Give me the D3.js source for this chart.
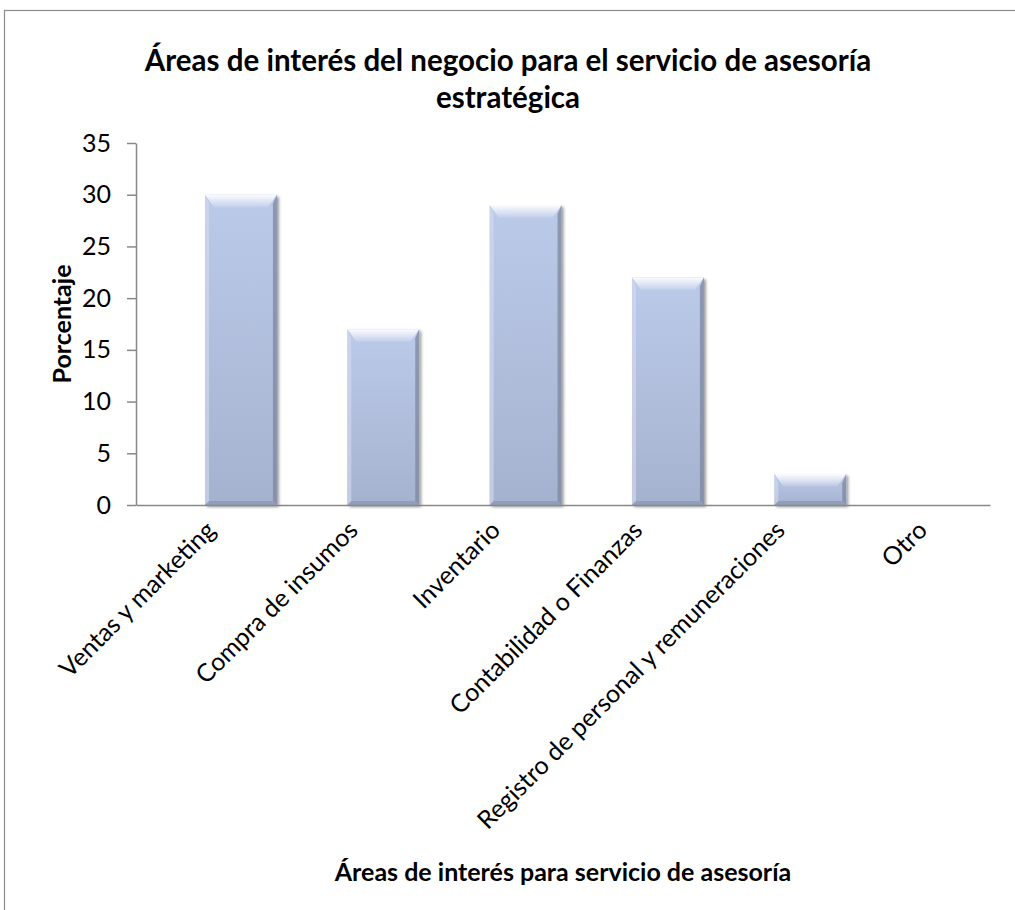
<!DOCTYPE html>
<html>
<head>
<meta charset="utf-8">
<script src="https://cdn.jsdelivr.net/npm/d3@7"></script>
<style>
  html, body { margin: 0; padding: 0; background: #fff; }
  svg { display: block; font-family: Lato, "Open Sans", sans-serif; }
</style>
</head>
<body>
<svg id="chart" width="1015" height="910"></svg>
<script>
// Áreas de interés — porcentaje de respuestas
const categories = [
  "Ventas y marketing",
  "Compra de insumos",
  "Inventario",
  "Contabilidad o Finanzas",
  "Registro de personal y remuneraciones",
  "Otro"
];
const percentages = [30, 17, 29, 22, 3, 0];
const yTicks = [0, 5, 10, 15, 20, 25, 30, 35];

const titleLines = ["Áreas de interés del negocio para el servicio de asesoría", "estratégica"];
const xTitle = "Áreas de interés para servicio de asesoría";
const yTitle = "Porcentaje";

const svg = d3.select("#chart");
const plot = { left: 136, right: 990, top: 143, bottom: 505 };

// outer chart frame (runs off the right and bottom edges)
svg.append("rect")
  .attr("x", 4.5).attr("y", 10.5)
  .attr("width", 1100).attr("height", 1000)
  .attr("fill", "#fff").attr("stroke", "#8c8c8c").attr("stroke-width", 1.2);

const x = d3.scaleBand().domain(categories).range([plot.left, plot.right]).padding(0);
const y = d3.scaleLinear().domain([0, 35]).range([plot.bottom, plot.top]);
// each bar sits in the right half of its category slot
const barOffset = 0.485, barWidth = 0.505;

// gradients and shadow for the bevelled bars
const defs = svg.append("defs");
const g1 = defs.append("linearGradient").attr("id", "barFill").attr("x1", 0).attr("y1", 0).attr("x2", 0).attr("y2", 1);
g1.append("stop").attr("offset", "0%").attr("stop-color", "#bccaea");
g1.append("stop").attr("offset", "100%").attr("stop-color", "#a5b2cf");
const topG = defs.append("linearGradient").attr("id", "topBevel").attr("x1", 0).attr("y1", 0).attr("x2", 0).attr("y2", 1);
topG.append("stop").attr("offset", "0%").attr("stop-color", "#ffffff").attr("stop-opacity", 0.95);
topG.append("stop").attr("offset", "100%").attr("stop-color", "#ffffff").attr("stop-opacity", 0.1);
const sh = defs.append("filter").attr("id", "shadow").attr("x", "-20%").attr("y", "-20%").attr("width", "140%").attr("height", "140%");
sh.append("feGaussianBlur").attr("in", "SourceAlpha").attr("stdDeviation", 1.4);
sh.append("feOffset").attr("dx", 1.5).attr("dy", 1.5).attr("result", "b");
sh.append("feComponentTransfer").append("feFuncA").attr("type", "linear").attr("slope", 0.4);
const m = sh.append("feMerge");
m.append("feMergeNode");
m.append("feMergeNode").attr("in", "SourceGraphic");

// y axis
const yAxis = svg.append("g").attr("transform", `translate(${plot.left},0)`)
  .call(d3.axisLeft(y).tickValues(yTicks).tickSize(9).tickSizeOuter(0).tickPadding(16));
yAxis.select(".domain").attr("stroke", "#888").attr("stroke-width", 1.5);
yAxis.selectAll(".tick line").attr("stroke", "#888").attr("stroke-width", 1.5);
yAxis.selectAll(".tick text").attr("font-size", 25).attr("fill", "#000").attr("font-family", "Lato, sans-serif");

// bars
const bars = svg.append("g").selectAll("g").data(categories.map((c, i) => ({ c, v: percentages[i] })))
  .join("g").filter(d => d.v > 0);
bars.each(function(d) {
  const g = d3.select(this);
  const x0 = x(d.c) + x.bandwidth() * barOffset, w = x.bandwidth() * barWidth;
  const y0 = y(d.v), y1 = y(0), h = y1 - y0;
  const b = Math.min(9, h / 2.5), s = Math.min(4, h / 4);
  g.append("rect").attr("x", x0).attr("y", y0).attr("width", w).attr("height", h)
    .attr("fill", "url(#barFill)").attr("filter", "url(#shadow)");
  // top bevel (soft highlight)
  g.append("path").attr("d", `M${x0},${y0}L${x0 + w},${y0}L${x0 + w - b},${y0 + b * 1.4}L${x0 + b},${y0 + b * 1.4}Z`)
    .attr("fill", "url(#topBevel)");
  // left bevel
  g.append("path").attr("d", `M${x0},${y0}L${x0 + s},${y0 + b}L${x0 + s},${y1 - s}L${x0},${y1}Z`)
    .attr("fill", "#d3dcef").attr("opacity", 0.6);
  // right bevel (dark)
  g.append("path").attr("d", `M${x0 + w},${y0}L${x0 + w - s},${y0 + b}L${x0 + w - s},${y1 - s}L${x0 + w},${y1}Z`)
    .attr("fill", "#7c869e").attr("opacity", 0.75);
  // bottom bevel
  g.append("path").attr("d", `M${x0},${y1}L${x0 + s},${y1 - s}L${x0 + w - s},${y1 - s}L${x0 + w},${y1}Z`)
    .attr("fill", "#8691aa").attr("opacity", 0.6);
});

// x axis
const xAxis = svg.append("g").attr("transform", `translate(0,${plot.bottom})`)
  .call(d3.axisBottom(x).tickSize(0).tickSizeOuter(0));
xAxis.select(".domain").attr("stroke", "#888").attr("stroke-width", 1.5);
xAxis.selectAll(".tick text")
  .attr("font-size", 25).attr("fill", "#000").attr("font-family", "Lato, sans-serif")
  .attr("text-anchor", "end")
  .attr("transform", "translate(1,18) rotate(-45)")
  .attr("dy", "0.5em").attr("y", 0).attr("x", 0);

// titles
const title = svg.append("text").attr("x", 508).attr("y", 71)
  .attr("text-anchor", "middle").attr("font-size", 29.5).attr("font-weight", "bold").attr("fill", "#000");
titleLines.forEach((t, i) => title.append("tspan").attr("x", 508).attr("dy", i ? 37 : 0).text(t));

svg.append("text").attr("x", 563).attr("y", 881).attr("text-anchor", "middle")
  .attr("font-size", 25).attr("font-weight", "bold").text(xTitle);

svg.append("text").attr("transform", `translate(71,324) rotate(-90)`).attr("text-anchor", "middle")
  .attr("font-size", 25).attr("font-weight", "bold").text(yTitle);
</script>
</body>
</html>
